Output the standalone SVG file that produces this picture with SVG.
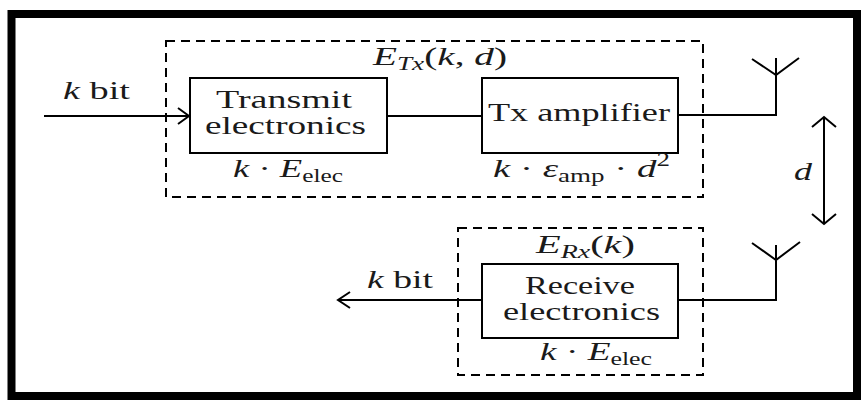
<svg xmlns="http://www.w3.org/2000/svg" width="863" height="403" viewBox="0 0 863 403">
<style>
.frame{fill:none;stroke:#000;stroke-width:8}
.box{fill:#fff;stroke:#000;stroke-width:2}
.dash{fill:none;stroke:#000;stroke-width:2;stroke-dasharray:9 6}
.ln{fill:none;stroke:#000;stroke-width:2}
text{font-family:"Liberation Serif","DejaVu Serif",serif;font-size:26px;fill:#1a1a1a}
.bt{font-size:25px}
.it{font-style:italic}
.sub{font-size:18px}
</style>
<rect width="863" height="403" fill="#fff"/>
<rect class="frame" x="11.5" y="14" width="845.5" height="382"/>

<g id="tx-group">
  <rect class="dash" x="166" y="41" width="537" height="156"/>
  <text x="373" y="65" textLength="134" lengthAdjust="spacingAndGlyphs"><tspan class="it">E</tspan><tspan class="it sub" dy="5">Tx</tspan><tspan dy="-5">(</tspan><tspan class="it">k</tspan><tspan>, </tspan><tspan class="it">d</tspan><tspan>)</tspan></text>
</g>

<g id="transmit-electronics">
  <rect class="box" x="190" y="78" width="197" height="75"/>
  <text class="bt" x="216" y="108" textLength="136" lengthAdjust="spacingAndGlyphs">Transmit</text>
  <text class="bt" x="205" y="134" textLength="161" lengthAdjust="spacingAndGlyphs">electronics</text>
  <text x="233" y="177" textLength="110" lengthAdjust="spacingAndGlyphs"><tspan class="it">k</tspan><tspan> · </tspan><tspan class="it">E</tspan><tspan class="sub" dy="5">elec</tspan></text>
</g>

<g id="tx-amplifier">
  <rect class="box" x="482" y="78" width="196" height="75"/>
  <text class="bt" x="488" y="121" textLength="182" lengthAdjust="spacingAndGlyphs">Tx amplifier</text>
  <text x="493" y="177" textLength="177" lengthAdjust="spacingAndGlyphs"><tspan class="it">k</tspan><tspan> · </tspan><tspan class="it">ε</tspan><tspan class="sub" dy="5">amp</tspan><tspan dy="-5">  · </tspan><tspan class="it">d</tspan><tspan class="sub" dy="-11">2</tspan></text>
</g>

<g id="rx-group">
  <rect class="dash" x="458" y="228" width="245" height="147"/>
  <text x="536" y="253" textLength="99" lengthAdjust="spacingAndGlyphs"><tspan class="it">E</tspan><tspan class="it sub" dy="5">Rx</tspan><tspan dy="-5">(</tspan><tspan class="it">k</tspan><tspan>)</tspan></text>
</g>

<g id="receive-electronics">
  <rect class="box" x="482" y="264" width="196" height="74"/>
  <text class="bt" x="525" y="294" textLength="110" lengthAdjust="spacingAndGlyphs">Receive</text>
  <text class="bt" x="503" y="320" textLength="157" lengthAdjust="spacingAndGlyphs">electronics</text>
  <text x="540" y="360" textLength="112" lengthAdjust="spacingAndGlyphs"><tspan class="it">k</tspan><tspan> · </tspan><tspan class="it">E</tspan><tspan class="sub" dy="5">elec</tspan></text>
</g>

<g id="tx-antenna">
  <path class="ln" d="M776 115 V58 M752 59 L776 75 L799 58"/>
</g>
<g id="rx-antenna">
  <path class="ln" d="M776 300 V245 M752 243 L776 260 L800 242"/>
</g>

<g id="connectors">
  <path class="ln" d="M44 116 H189"/>
  <path class="ln" d="M178 108 L189 116 L178 124"/>
  <path class="ln" d="M387 116 H482"/>
  <path class="ln" d="M678 115 H777"/>
  <path class="ln" d="M678 300 H777"/>
  <path class="ln" d="M482 300 H338"/>
  <path class="ln" d="M350 292 L338 300 L350 308"/>
  <path class="ln" d="M824 117 V224"/>
  <path class="ln" d="M812 127 L824 117 L836 127"/>
  <path class="ln" d="M812 214 L824 224 L836 214"/>
  <text x="63" y="99" textLength="67" lengthAdjust="spacingAndGlyphs"><tspan class="it">k</tspan> bit</text>
  <text x="367" y="288" textLength="66" lengthAdjust="spacingAndGlyphs"><tspan class="it">k</tspan> bit</text>
  <text class="it" x="794" y="180" textLength="18" lengthAdjust="spacingAndGlyphs">d</text>
</g>
</svg>
